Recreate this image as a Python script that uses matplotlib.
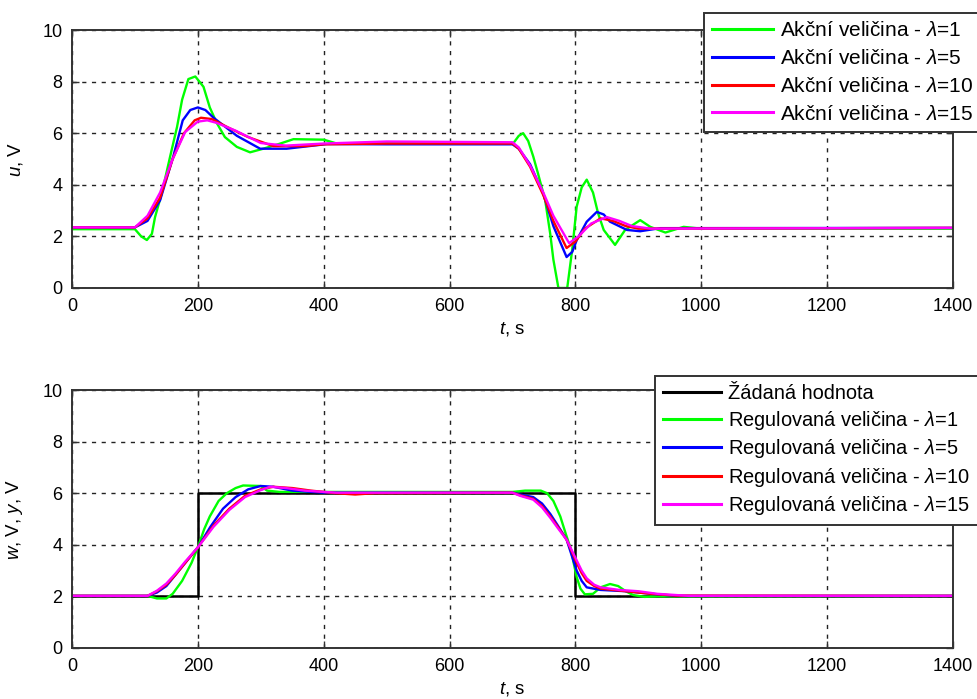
import matplotlib
matplotlib.use('Agg')
import matplotlib.pyplot as plt

# akcni velicina u(t) pro ruzna lambda
t_u1 = [0, 100, 110, 119, 127, 132, 143, 156, 167, 175, 185, 196, 209, 219, 230, 243, 262, 283, 304, 331, 352,
        400, 421, 500, 600, 701, 710, 717, 725, 733, 741, 752, 760, 765, 773, 787, 795, 802, 810, 818, 828,
        836, 845, 863, 879, 903, 919, 943, 972, 1000, 1400]
u1 = [2.28, 2.28, 2.0, 1.86, 2.1, 2.75, 3.7, 5.1, 6.25, 7.3, 8.1, 8.2, 7.8, 7.0, 6.4, 5.85, 5.47, 5.26, 5.4, 5.6, 5.77,
      5.75, 5.6, 5.62, 5.6, 5.6, 5.9, 6.0, 5.7, 5.1, 4.4, 3.4, 2.1, 1.1, 0.0, 0.0, 1.5, 3.15, 3.9, 4.2, 3.7,
      2.9, 2.25, 1.67, 2.25, 2.63, 2.37, 2.15, 2.37, 2.3, 2.3]

t_u5 = [0, 100, 120, 140, 161, 176, 188, 200, 212, 225, 262, 299, 341, 405, 500, 700, 710, 728, 749, 765, 786,
        795, 802, 818, 834, 845, 855, 882, 903, 935, 1400]
u5 = [2.35, 2.35, 2.6, 3.4, 5.1, 6.5, 6.9, 7.0, 6.9, 6.6, 5.9, 5.4, 5.4, 5.58, 5.57, 5.57, 5.4, 4.8, 3.65, 2.4, 1.2,
      1.4, 1.85, 2.57, 2.95, 2.85, 2.57, 2.25, 2.2, 2.32, 2.33]

t_u10 = [0, 100, 120, 140, 160, 178, 195, 205, 222, 250, 280, 320, 370, 400, 500, 700, 710, 728, 749, 765, 786,
         800, 815, 840, 860, 880, 900, 1400]
u10 = [2.35, 2.35, 2.7, 3.5, 5.0, 6.0, 6.5, 6.6, 6.55, 6.2, 5.85, 5.5, 5.5, 5.57, 5.6, 5.6, 5.4, 4.7, 3.6, 2.6, 1.55,
       1.8, 2.3, 2.7, 2.6, 2.4, 2.3, 2.33]

t_u15 = [0, 100, 120, 140, 160, 180, 200, 215, 230, 260, 300, 340, 400, 500, 700, 710, 728, 749, 765, 790,
         805, 825, 850, 870, 890, 920, 1400]
u15 = [2.35, 2.35, 2.8, 3.7, 5.0, 6.05, 6.45, 6.5, 6.4, 6.1, 5.62, 5.52, 5.6, 5.68, 5.65, 5.45, 4.75, 3.7, 2.8, 1.74,
       2.0, 2.5, 2.75, 2.6, 2.4, 2.3, 2.33]

# zadana hodnota w(t)
t_w = [0, 200, 200, 800, 800, 1400]
w = [2, 2, 6, 6, 2, 2]

# regulovana velicina y(t)
t_y1 = [0, 120, 135, 150, 160, 175, 190, 200, 210, 219, 233, 246, 260, 272, 300, 310, 330, 700, 720, 745, 755,
        765, 776, 785, 792, 802, 808, 815, 828, 840, 855, 868, 880, 892, 910, 930, 1400]
y1 = [2.02, 2.02, 1.92, 1.92, 2.1, 2.6, 3.3, 3.9, 4.6, 5.1, 5.7, 6.0, 6.2, 6.3, 6.28, 6.1, 6.05, 6.05, 6.1, 6.1, 6.0,
      5.7, 5.1, 4.4, 3.9, 2.75, 2.3, 2.08, 2.1, 2.35, 2.48, 2.4, 2.2, 2.05, 1.98, 2.0, 2.02]

t_y5 = [0, 120, 135, 150, 165, 180, 200, 220, 240, 260, 280, 300, 320, 350, 400, 700, 712, 733, 747, 760, 772,
        786, 794, 802, 810, 818, 840, 880, 920, 960, 1400]
y5 = [2.02, 2.02, 2.15, 2.4, 2.85, 3.3, 3.9, 4.7, 5.4, 5.85, 6.15, 6.28, 6.25, 6.1, 6.02, 6.02, 5.95, 5.85, 5.6, 5.2,
      4.75, 4.2, 3.6, 3.0, 2.6, 2.35, 2.25, 2.2, 2.1, 2.02, 2.02]

t_y10 = [0, 120, 135, 150, 165, 180, 200, 225, 250, 275, 300, 320, 350, 380, 420, 450, 480, 700, 712, 733, 747,
         760, 772, 786, 794, 802, 810, 818, 830, 840, 880, 920, 960, 1400]
y10 = [2.02, 2.02, 2.2, 2.45, 2.85, 3.3, 3.9, 4.75, 5.4, 5.9, 6.15, 6.25, 6.2, 6.1, 6.0, 5.95, 6.0, 6.02, 5.92, 5.78,
       5.5, 5.1, 4.7, 4.2, 3.75, 3.3, 2.9, 2.6, 2.4, 2.3, 2.2, 2.1, 2.03, 2.02]

t_y15 = [0, 120, 135, 150, 165, 180, 200, 225, 250, 275, 300, 315, 340, 370, 420, 700, 712, 733, 747, 760, 772,
         786, 794, 802, 810, 818, 830, 840, 870, 900, 930, 980, 1400]
y15 = [2.02, 2.02, 2.22, 2.5, 2.9, 3.35, 3.9, 4.7, 5.35, 5.85, 6.12, 6.25, 6.2, 6.1, 6.02, 6.02, 5.9, 5.75, 5.45,
       5.05, 4.65, 4.2, 3.8, 3.4, 3.0, 2.7, 2.45, 2.35, 2.25, 2.2, 2.1, 2.02, 2.02]

lambdas = [1, 5, 10, 15]
colors = ['#00ff00', '#0000ff', '#ff0000', '#ff00ff']

plt.rcParams['font.family'] = ['Liberation Sans Narrow', 'Liberation Sans', 'DejaVu Sans']
plt.rcParams['mathtext.fontset'] = 'custom'
plt.rcParams['mathtext.it'] = 'Liberation Sans:italic'
plt.rcParams['mathtext.rm'] = 'Liberation Sans'

fig = plt.figure(figsize=(9.78, 6.99), dpi=100)
ax1 = fig.add_axes([0.0736, 0.588, 0.9008, 0.369])
ax2 = fig.add_axes([0.0736, 0.073, 0.9008, 0.369])


def style_axes(ax):
    ax.set_xlim(0, 1400)
    ax.set_ylim(0, 10)
    ax.set_xticks(range(0, 1401, 200))
    ax.set_yticks(range(0, 11, 2))
    ax.grid(True, color='#222222', linestyle=(0, (3, 4)), linewidth=1.0)
    ax.set_axisbelow(True)
    for sp in ax.spines.values():
        sp.set_color('#333333')
        sp.set_linewidth(1.4)
    ax.tick_params(direction='in', top=True, right=True, length=5, width=1.0,
                   color='#333333', labelsize=13, pad=7)
    ax.set_xlabel(r'$\mathit{t}$, s', fontsize=13.5, labelpad=4)


style_axes(ax1)
for tt, vv, lam, c in zip([t_u1, t_u5, t_u10, t_u15], [u1, u5, u10, u15], lambdas, colors):
    ax1.plot(tt, vv, color=c, linewidth=1.7, label=r'Akční veličina - $\lambda$=%d' % lam)
ax1.set_ylabel(r'$\mathit{u}$, V', fontsize=13.5, labelpad=12)

style_axes(ax2)
ax2.plot(t_w, w, color='black', linewidth=1.8, label='Žádaná hodnota')
for tt, vv, lam, c in zip([t_y1, t_y5, t_y10, t_y15], [y1, y5, y10, y15], lambdas, colors):
    ax2.plot(tt, vv, color=c, linewidth=1.7, label=r'Regulovaná veličina - $\lambda$=%d' % lam)
ax2.set_ylabel(r'$\mathit{w}$, V, $\mathit{y}$, V', fontsize=13.5, labelpad=12)


def make_legend(ax, x_px, y_px, size, spacing):
    lg = ax.legend(loc='upper left', bbox_to_anchor=(x_px / 978, 1 - y_px / 699),
                   bbox_transform=fig.transFigure, frameon=True, fancybox=False, framealpha=1,
                   edgecolor='#333333', borderpad=0.4, labelspacing=spacing, handlelength=2.9,
                   handletextpad=0.35, borderaxespad=0,
                   prop={'family': 'Liberation Sans', 'size': size})
    lg.get_frame().set_linewidth(1.4)
    for ln in lg.get_lines():
        ln.set_linewidth(2.2)
    return lg


make_legend(ax1, 704, 13, 15.0, 0.42)
make_legend(ax2, 655, 376, 14.4, 0.28)

fig.savefig('out.png', dpi=100, facecolor='white')
